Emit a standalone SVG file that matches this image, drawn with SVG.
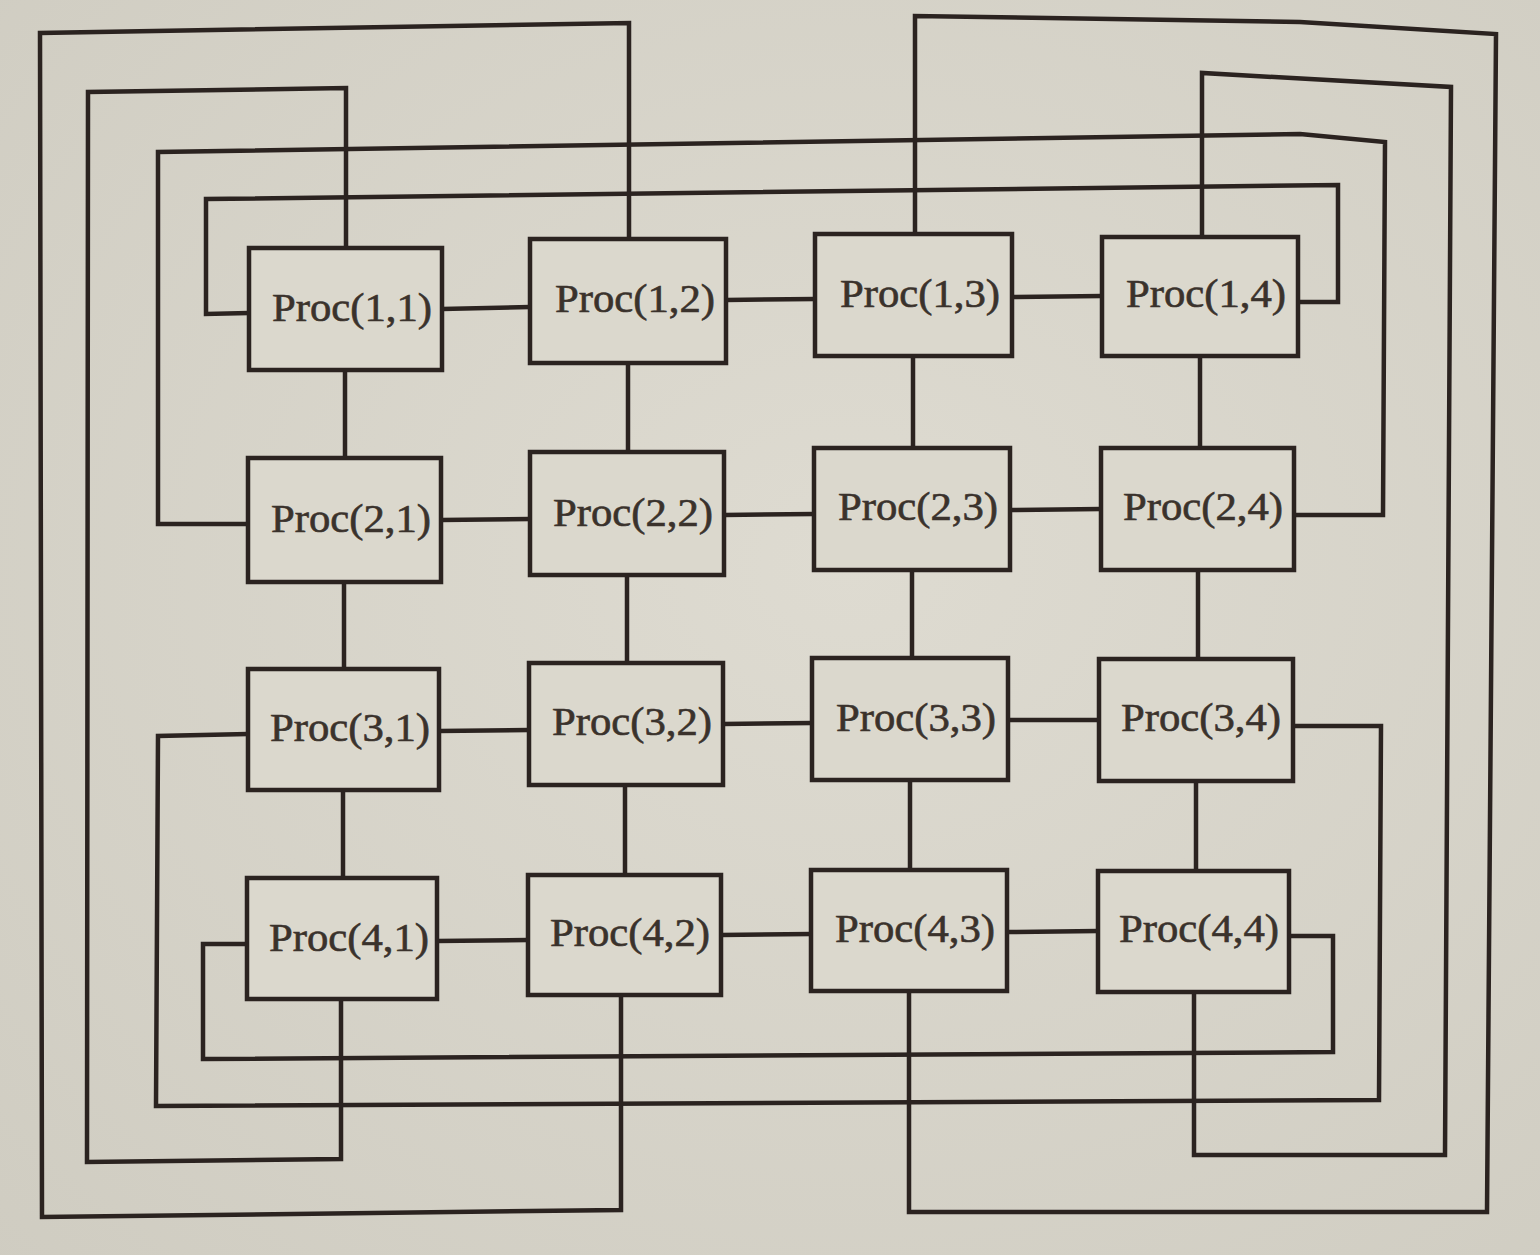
<svg xmlns="http://www.w3.org/2000/svg" width="1540" height="1255" viewBox="0 0 1540 1255">
<defs>
<style>
.w{fill:none;stroke:#2b2320;stroke-width:4.5;stroke-linejoin:miter}
.b{fill:#dbd8cd;stroke:#2b2320;stroke-width:4.5}
.t{font-family:"Liberation Serif","DejaVu Serif",serif;font-size:39px;fill:#3a322c;stroke:#3a322c;stroke-width:0.6;text-anchor:middle}
</style>
<radialGradient id="bg" cx="0.55" cy="0.45" r="0.8">
<stop offset="0" stop-color="#dedbd1"/>
<stop offset="1" stop-color="#cfccc1"/>
</radialGradient>
</defs>
<rect x="0" y="0" width="1540" height="1255" fill="url(#bg)"/>
<g id="connectors">
<polyline class="w" points="442,309 530,307"/>
<polyline class="w" points="726,300 815,299"/>
<polyline class="w" points="1012,297 1102,296"/>
<polyline class="w" points="441,520 530,519"/>
<polyline class="w" points="724,515 814,514"/>
<polyline class="w" points="1010,510 1101,509"/>
<polyline class="w" points="439,731 529,730"/>
<polyline class="w" points="723,724 812,723"/>
<polyline class="w" points="1008,720 1099,720"/>
<polyline class="w" points="437,941 528,940"/>
<polyline class="w" points="721,935 811,934"/>
<polyline class="w" points="1007,932 1098,931"/>
<polyline class="w" points="345,370 345,458"/>
<polyline class="w" points="344,582 344,669"/>
<polyline class="w" points="343,790 343,878"/>
<polyline class="w" points="628,363 628,452"/>
<polyline class="w" points="627,575 627,663"/>
<polyline class="w" points="625,785 625,875"/>
<polyline class="w" points="913,356 913,448"/>
<polyline class="w" points="912,570 912,658"/>
<polyline class="w" points="910,780 910,870"/>
<polyline class="w" points="1200,356 1200,448"/>
<polyline class="w" points="1198,570 1198,659"/>
<polyline class="w" points="1196,781 1196,871"/>
<polyline class="w" points="346,248 346,88 88,92 87,1162 341,1159 341,999"/>
<polyline class="w" points="629,239 629,23 40,33 42,1217 621,1210 621,995"/>
<polyline class="w" points="915,234 915,16 1300,22 1496,34 1487,1212 909,1212 909,991"/>
<polyline class="w" points="1202,237 1202,73 1451,87 1445,1155 1194,1155 1194,992"/>
<polyline class="w" points="249,313 206,314 206,199 1338,185 1338,302 1298,302"/>
<polyline class="w" points="248,524 158,524 158,152 1300,134 1385,142 1383,515 1294,515"/>
<polyline class="w" points="248,734 158,736 156,1106 1379,1100 1381,726 1293,726"/>
<polyline class="w" points="247,944 203,944 203,1059 1333,1052 1333,936 1289,936"/>
</g>
<g id="n11"><rect class="b" x="249" y="248" width="193" height="122"/><text class="t" x="352" y="321" textLength="160" lengthAdjust="spacingAndGlyphs">Proc(1,1)</text></g>
<g id="n12"><rect class="b" x="530" y="239" width="196" height="124"/><text class="t" x="635" y="312" textLength="160" lengthAdjust="spacingAndGlyphs">Proc(1,2)</text></g>
<g id="n13"><rect class="b" x="815" y="234" width="197" height="122"/><text class="t" x="920" y="307" textLength="160" lengthAdjust="spacingAndGlyphs">Proc(1,3)</text></g>
<g id="n14"><rect class="b" x="1102" y="237" width="196" height="119"/><text class="t" x="1206" y="307" textLength="160" lengthAdjust="spacingAndGlyphs">Proc(1,4)</text></g>
<g id="n21"><rect class="b" x="248" y="458" width="193" height="124"/><text class="t" x="351" y="532" textLength="160" lengthAdjust="spacingAndGlyphs">Proc(2,1)</text></g>
<g id="n22"><rect class="b" x="530" y="452" width="194" height="123"/><text class="t" x="633" y="526" textLength="160" lengthAdjust="spacingAndGlyphs">Proc(2,2)</text></g>
<g id="n23"><rect class="b" x="814" y="448" width="196" height="122"/><text class="t" x="918" y="520" textLength="160" lengthAdjust="spacingAndGlyphs">Proc(2,3)</text></g>
<g id="n24"><rect class="b" x="1101" y="448" width="193" height="122"/><text class="t" x="1203" y="520" textLength="160" lengthAdjust="spacingAndGlyphs">Proc(2,4)</text></g>
<g id="n31"><rect class="b" x="248" y="669" width="191" height="121"/><text class="t" x="350" y="741" textLength="160" lengthAdjust="spacingAndGlyphs">Proc(3,1)</text></g>
<g id="n32"><rect class="b" x="529" y="663" width="194" height="122"/><text class="t" x="632" y="735" textLength="160" lengthAdjust="spacingAndGlyphs">Proc(3,2)</text></g>
<g id="n33"><rect class="b" x="812" y="658" width="196" height="122"/><text class="t" x="916" y="731" textLength="160" lengthAdjust="spacingAndGlyphs">Proc(3,3)</text></g>
<g id="n34"><rect class="b" x="1099" y="659" width="194" height="122"/><text class="t" x="1201" y="731" textLength="160" lengthAdjust="spacingAndGlyphs">Proc(3,4)</text></g>
<g id="n41"><rect class="b" x="247" y="878" width="190" height="121"/><text class="t" x="349" y="951" textLength="160" lengthAdjust="spacingAndGlyphs">Proc(4,1)</text></g>
<g id="n42"><rect class="b" x="528" y="875" width="193" height="120"/><text class="t" x="630" y="946" textLength="160" lengthAdjust="spacingAndGlyphs">Proc(4,2)</text></g>
<g id="n43"><rect class="b" x="811" y="870" width="196" height="121"/><text class="t" x="915" y="942" textLength="160" lengthAdjust="spacingAndGlyphs">Proc(4,3)</text></g>
<g id="n44"><rect class="b" x="1098" y="871" width="191" height="121"/><text class="t" x="1199" y="942" textLength="160" lengthAdjust="spacingAndGlyphs">Proc(4,4)</text></g>
</svg>
